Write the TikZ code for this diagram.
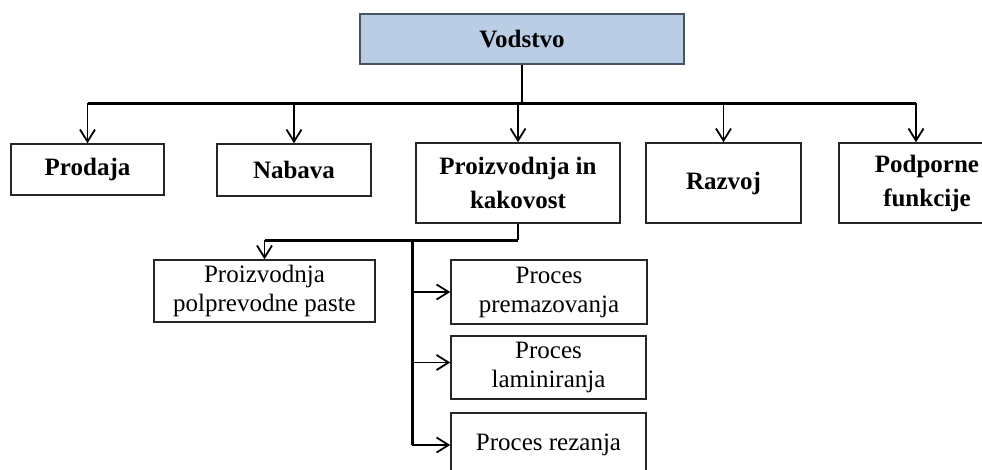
\documentclass[tikz,border=0pt]{standalone}
\usepackage{fontspec}
\setmainfont{Liberation Serif}
\usetikzlibrary{arrows.meta,calc}
\definecolor{headfill}{HTML}{B9CDE5}
\definecolor{headline}{HTML}{4A5460}

\begin{document}
\begin{tikzpicture}[x=1pt,y=-1pt,
  box/.style={draw=black!85, line width=1.5pt, fill=white, inner sep=0pt,
    align=center, anchor=center},
  topbox/.style={box, font=\bfseries\fontsize{25}{34}\selectfont},
  subbox/.style={box, font=\fontsize{25}{29}\selectfont},
  link/.style={line width=2.1pt},
  arr/.style={line width=1.8pt,
    -{Straight Barb[length=12pt,width=15pt,line width=1.8pt]}},
]
\useasboundingbox (0,0) rectangle (982,470);
\clip (0,0) rectangle (982,470);

% management
\node[topbox, draw=headline, fill=headfill, minimum width=324pt, minimum height=50pt]
  (vod) at (522,39) {Vodstvo};

% departments
\node[topbox, minimum width=153pt, minimum height=51pt] (prod) at (87.5,169.5) {Prodaja};
\node[topbox, minimum width=154pt, minimum height=52pt] (nab) at (294,170) {Nabava};
\node[topbox, minimum width=204pt, minimum height=80pt] (proiz) at (518,183)
  {Proizvodnja in\\kakovost};
\node[topbox, minimum width=155pt, minimum height=80pt] (raz) at (723.5,183) {Razvoj};
\node[topbox, minimum width=176pt, minimum height=80pt] (podp) at (927,183)
  {Podporne\\funkcije};

% production units
\node[subbox, minimum width=221pt, minimum height=62pt] (paste) at (264.5,291)
  {Proizvodnja\\polprevodne paste};
\node[subbox, minimum width=196pt, minimum height=64pt] (prem) at (549,292)
  {Proces\\premazovanja};
\node[subbox, minimum width=195pt, minimum height=63pt] (lam) at (548.5,367.5)
  {Proces\\laminiranja};
\node[subbox, minimum width=195pt, minimum height=64pt] (rez) at (548.5,445)
  {Proces rezanja};

% top-level distribution line
\coordinate (bus) at (0,103.5);
\coordinate (podpin) at ([xshift=-11pt]podp.north);
\draw[link, line width=2.4pt] (vod.south) -- (vod.south |- bus);
\draw[link] (prod.north |- bus) -- (podpin |- bus);
\foreach \n in {prod,nab,proiz,raz}
  \draw[arr] (\n.north |- bus) -- (\n.north);
\draw[arr] (podpin |- bus) -- (podpin);

% production branch
\coordinate (sub) at (0,240.5);
\coordinate (trunk) at (412.3,0);
\draw[link, line width=2.4pt] (proiz.south) -- (proiz.south |- sub);
\draw[link] (proiz.south |- sub) -- (paste.north |- sub);
\draw[arr] (paste.north |- sub) -- (paste.north);
\draw[link, line width=2.4pt] (trunk |- sub) -- (trunk |- rez.west);
\draw[arr] (trunk |- prem.west) -- (prem.west);
\coordinate (lamin) at ([yshift=5pt]lam.west);
\draw[arr] (trunk |- lamin) -- (lamin);
\draw[arr] (trunk |- rez.west) -- (rez.west);
\end{tikzpicture}
\end{document}
